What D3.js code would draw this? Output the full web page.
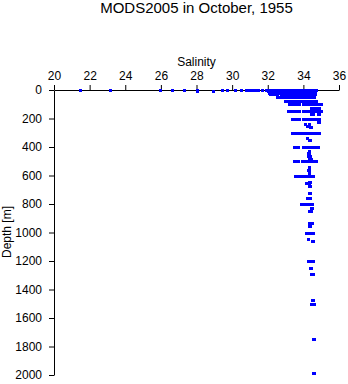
<!DOCTYPE html>
<html>
<head>
<meta charset="utf-8">
<script src="https://cdn.jsdelivr.net/npm/d3@7"></script>
<style>
  body { margin: 0; background: #fff; }
  svg { display: block; }
  text { font-family: "Liberation Sans", Arial, Helvetica, sans-serif; fill: #000; }
</style>
</head>
<body>
<svg id="chart" width="348" height="384"></svg>
<script>
// Axis ticks
const salinityTicks = [20, 22, 24, 26, 28, 30, 32, 34, 36];
const depthTicks = [0, 200, 400, 600, 800, 1000, 1200, 1400, 1600, 1800, 2000];

// Observed depths (m) and the salinity readings taken at each depth
const depthLevels = [
  0, 8, 10, 20, 30, 50, 75, 100, 125, 150, 170, 200, 222, 240, 250, 260,
  300, 340, 350, 400, 430, 445, 460, 486, 500, 540, 560, 585, 600, 643, 655,
  672, 725, 760, 800, 826, 850, 935, 952, 1000, 1048, 1062, 1200, 1248, 1292,
  1475, 1502, 1745, 1983
];

const salinityAtLevel = [
  // 0 m
  [21.45, 23.13, 25.93, 26.64, 27.29, 28.02, 29.41, 29.71, 30.16, 30.52, 30.78, 30.92,
   31.05, 31.2, 31.32, 31.45, 31.66, 31.9, 32.02, 32.13, 32.25, 32.36, 32.48, 32.6,
   32.71, 32.83, 32.95, 33.06, 33.18, 33.3, 33.41, 33.53, 33.65, 33.76, 33.88, 34.0,
   34.11, 34.23, 34.35, 34.46, 34.58, 34.7],
  // 8 m
  [28.02, 28.9],
  // 10 m
  [32.0, 32.12, 32.24, 32.35, 32.47, 32.59, 32.7, 32.82, 32.94, 33.05, 33.17, 33.29,
   33.4, 33.52, 33.64, 33.75, 33.87, 33.99, 34.1, 34.22, 34.34, 34.45, 34.57, 34.68],
  // 20 m
  [32.08, 32.2, 32.31, 32.43, 32.55, 32.66, 32.78, 32.9, 33.01, 33.13, 33.25, 33.36,
   33.48, 33.6, 33.71, 33.83, 33.95, 34.06, 34.18, 34.3, 34.41, 34.53, 34.65],
  // 30 m
  [32.12, 32.24, 32.36, 32.5, 32.72, 32.84, 32.96, 33.08, 33.2, 33.32, 33.44, 33.56,
   33.68, 33.8, 33.92, 34.04, 34.16, 34.28, 34.4, 34.52, 34.64],
  // 50 m
  [32.5, 32.6, 32.68, 32.84, 32.96, 33.08, 33.2, 33.32, 33.44, 33.56, 33.68, 33.8,
   33.92, 34.04, 34.16, 34.28, 34.4, 34.52, 34.6],
  // 75 m
  [32.95, 33.07, 33.19, 33.31, 33.43, 33.55, 33.67, 33.79, 33.91, 34.03, 34.15, 34.27,
   34.39, 34.51, 34.63, 34.7],
  // 100 m
  [33.18, 33.3, 33.42, 33.54, 33.66, 33.76, 33.98, 34.1, 34.22, 34.34, 34.46, 34.58,
   34.7, 34.82, 34.94, 34.98],
  // 125 m
  [34.42, 34.54, 34.66, 34.78, 34.88],
  // 150 m
  [33.15, 33.27, 33.39, 33.51, 33.63, 33.74, 33.96, 34.08, 34.2, 34.32, 34.44, 34.56,
   34.68, 34.8, 34.92, 34.98],
  // 170 m
  [34.45, 34.52, 34.82, 34.9],
  // 200 m
  [33.35, 33.47, 33.59, 33.71, 33.78, 33.97, 34.09, 34.21, 34.33, 34.45, 34.57, 34.69,
   34.81, 34.88],
  // 222 m
  [34.8, 34.9],
  // 240 m
  [34.08, 34.3],
  // 250 m
  [34.18, 34.25],
  // 260 m
  [34.36, 34.42],
  // 300 m
  [33.38, 33.5, 33.62, 33.74, 33.86, 33.98, 34.1, 34.22, 34.34, 34.46, 34.58, 34.7,
   34.82, 34.88],
  // 340 m
  [34.22],
  // 350 m
  [34.3, 34.38],
  // 400 m
  [33.48, 33.6, 33.72, 33.98, 34.1, 34.22, 34.34, 34.46, 34.58, 34.7, 34.82],
  // 430 m
  [34.3],
  // 445 m
  [34.25, 34.33],
  // 460 m
  [34.28, 34.35],
  // 486 m
  [34.32, 34.45],
  // 500 m
  [33.5, 33.62, 33.72, 33.95, 34.07, 34.19, 34.31, 34.43, 34.55, 34.67, 34.72],
  // 540 m
  [34.3],
  // 560 m
  [34.28, 34.34],
  // 585 m
  [34.3],
  // 600 m
  [33.53, 33.65, 33.77, 33.89, 34.01, 34.13, 34.25, 34.37, 34.49, 34.56],
  // 643 m
  [34.33, 34.38],
  // 655 m
  [34.14, 34.25, 34.33],
  // 672 m
  [34.3, 34.38],
  // 725 m
  [34.34, 34.4],
  // 760 m
  [34.22, 34.3, 34.38],
  // 800 m
  [33.86, 33.98, 34.1, 34.22, 34.34, 34.46, 34.5],
  // 826 m
  [34.42, 34.5],
  // 850 m
  [34.3, 34.4, 34.45],
  // 935 m
  [34.3, 34.42, 34.5],
  // 952 m
  [34.33, 34.4],
  // 1000 m
  [34.15, 34.27, 34.39, 34.48, 34.55],
  // 1048 m
  [34.28],
  // 1062 m
  [34.5, 34.56],
  // 1200 m
  [34.28, 34.4, 34.5, 34.56],
  // 1248 m
  [34.36, 34.42],
  // 1292 m
  [34.43, 34.53],
  // 1475 m
  [34.5, 34.55],
  // 1502 m
  [34.43, 34.53, 34.6],
  // 1745 m
  [34.56, 34.6],
  // 1983 m
  [34.56, 34.61]
];

// Flatten into (salinity, depth) observations
const observations = [];
depthLevels.forEach((d, i) => {
  salinityAtLevel[i].forEach(s => observations.push({ s, d }));
});

const svg = d3.select("#chart");

const x = d3.scaleLinear().domain([20, 36]).range([54, 339]);
const y = d3.scaleLinear().domain([0, 2000]).range([90, 375]);

// Title
svg.append("text")
  .attr("x", 196.5).attr("y", 12.5)
  .attr("text-anchor", "middle")
  .style("font-size", "15px")
  .text("MODS2005 in October, 1955");

// Salinity axis along the top
const xAxis = svg.append("g")
  .attr("transform", "translate(0,90)")
  .call(d3.axisTop(x).tickValues(salinityTicks).tickFormat(d3.format("d"))
    .tickSize(5).tickSizeOuter(0).tickPadding(5));
xAxis.selectAll("text").style("font-size", "12px").style("font-family", "'Liberation Sans', Arial, sans-serif");

svg.append("text")
  .attr("x", 196.5).attr("y", 65.5)
  .attr("text-anchor", "middle")
  .style("font-size", "12px")
  .text("Salinity");

// Depth axis on the left, increasing downward
const yAxis = svg.append("g")
  .attr("transform", "translate(54,0)")
  .call(d3.axisLeft(y).tickValues(depthTicks).tickFormat(d3.format("d"))
    .tickSize(5).tickSizeOuter(0).tickPadding(7));
yAxis.selectAll("text").style("font-size", "12px").style("font-family", "'Liberation Sans', Arial, sans-serif");

svg.append("text")
  .attr("transform", "translate(11,232) rotate(-90)")
  .attr("text-anchor", "middle")
  .style("font-size", "12px")
  .text("Depth [m]");

// Observations as small blue squares
svg.append("g")
  .attr("shape-rendering", "crispEdges")
  .selectAll("rect")
  .data(observations)
  .join("rect")
  .attr("x", d => Math.round(x(d.s)) - 1)
  .attr("y", d => Math.round(y(d.d)) - 1)
  .attr("width", 3)
  .attr("height", 3)
  .attr("fill", "#0000ff");
</script>
</body>
</html>
